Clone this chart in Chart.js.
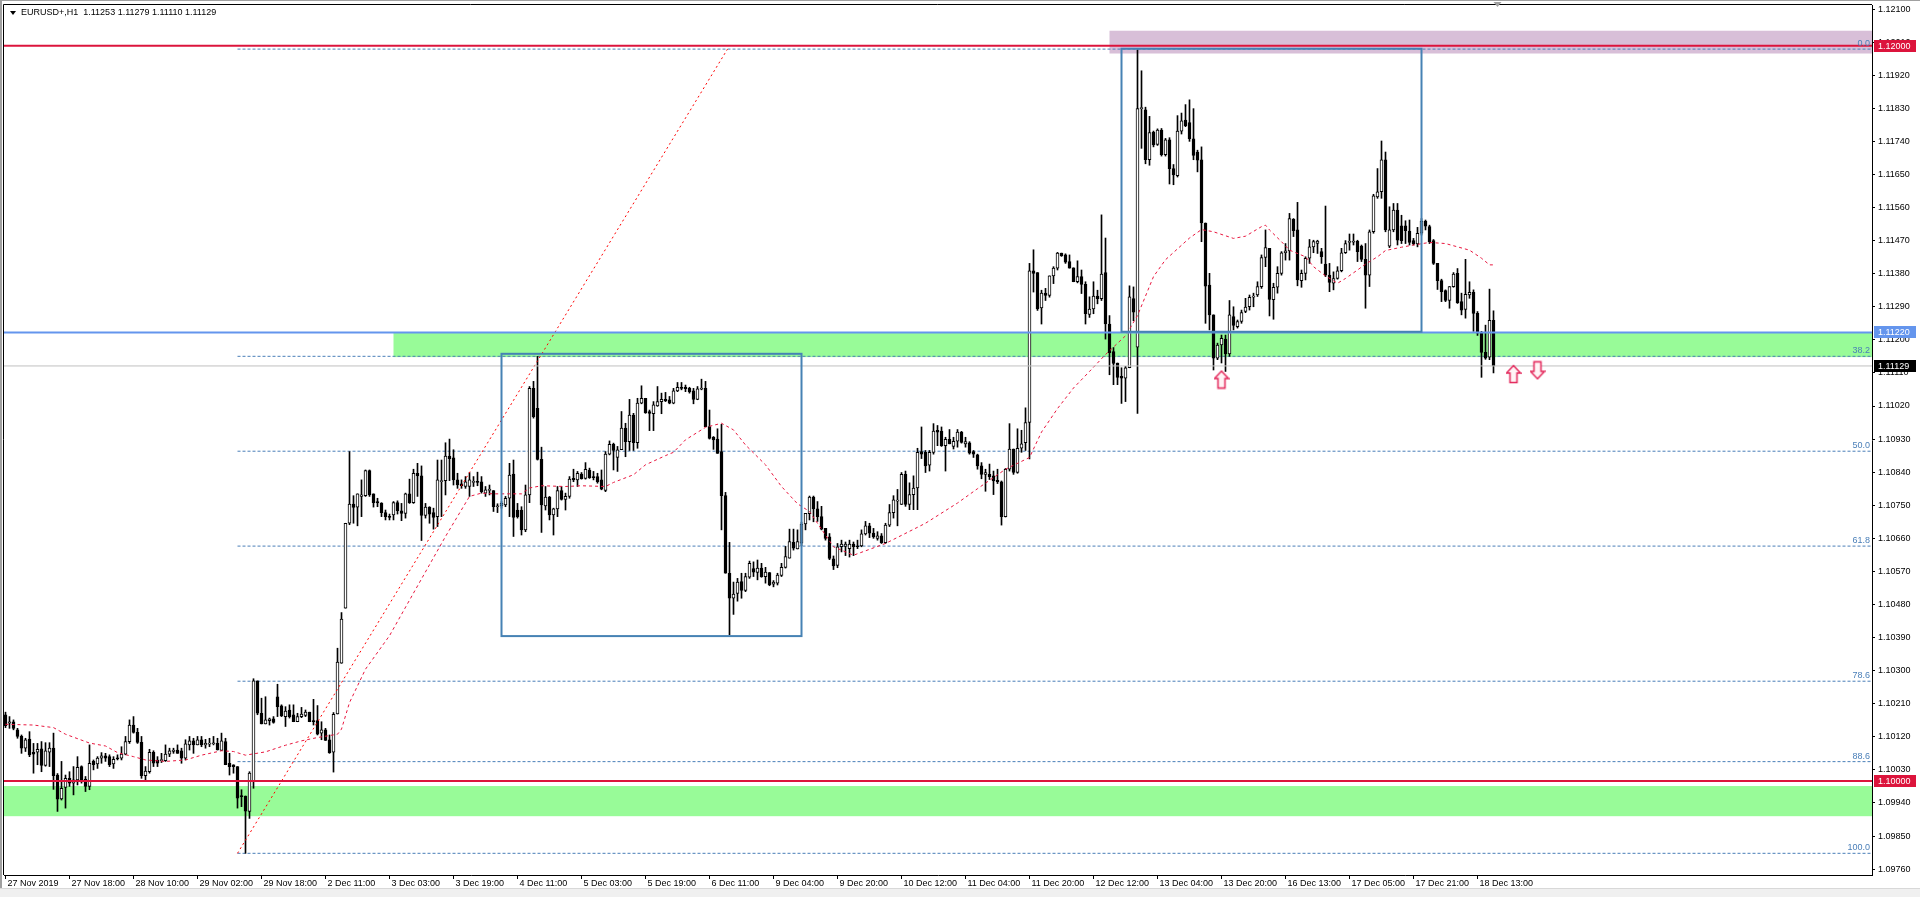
<!DOCTYPE html>
<html>
<head>
<meta charset="utf-8">
<script src="https://cdn.jsdelivr.net/npm/chart.js"></script>
<style>
html,body{margin:0;padding:0;background:#fff;overflow:hidden}
canvas{display:block}
</style>
</head>
<body>
<canvas id="chart" width="1920" height="897"></canvas>
<script>
const SYMBOL = "EURUSD+,H1";

// hourly candles
const opens = [
1.10180,1.10157,1.10161,1.10139,1.10121,1.10089,1.10114,1.10078,1.10078,1.10087,
1.10042,1.10078,1.10089,1.10016,1.09951,1.09982,1.10007,1.09994,1.10003,1.10039,
1.10005,1.09985,1.10053,1.10046,1.10062,1.10068,1.10066,1.10046,1.10063,1.10062,
1.10073,1.10107,1.10152,1.10132,1.10105,1.10014,1.10025,1.10078,1.10057,1.10055,
1.10055,1.10073,1.10080,1.10084,1.10082,1.10062,1.10098,1.10109,1.10098,1.10112,
1.10098,1.10100,1.10101,1.10102,1.10083,1.10107,1.10048,1.10044,1.10039,1.09960,
1.09959,1.09917,1.09998,1.10272,1.10184,1.10155,1.10164,1.10169,1.10229,1.10204,
1.10175,1.10193,1.10180,1.10161,1.10175,1.10178,1.10187,1.10164,1.10164,1.10130,
1.10139,1.10112,1.10078,1.10182,1.10320,1.10470,1.10701,1.10753,1.10745,1.10774,
1.10776,1.10844,1.10781,1.10760,1.10756,1.10730,1.10720,1.10724,1.10757,1.10735,
1.10728,1.10781,1.10757,1.10837,1.10830,1.10722,1.10745,1.10730,1.10719,1.10814,
1.10817,1.10884,1.10879,1.10819,1.10808,1.10801,1.10801,1.10812,1.10815,1.10814,
1.10783,1.10790,1.10790,1.10746,1.10748,1.10751,1.10769,1.10835,1.10737,1.10737,
1.10683,1.10778,1.11068,1.11014,1.10875,1.10748,1.10772,1.10724,1.10740,1.10790,
1.10766,1.10774,1.10823,1.10819,1.10835,1.10823,1.10846,1.10828,1.10828,1.10819,
1.10790,1.10889,1.10916,1.10880,1.10901,1.10960,1.10923,1.10995,1.10920,1.11028,
1.11041,1.11005,1.10999,1.11020,1.11032,1.11038,1.11037,1.11028,1.11061,1.11071,
1.11071,1.11068,1.11061,1.11038,1.11066,1.11068,1.10964,1.10935,1.10930,1.10896,
1.10776,1.10565,1.10497,1.10510,1.10542,1.10518,1.10554,1.10578,1.10567,1.10579,
1.10556,1.10567,1.10535,1.10538,1.10559,1.10581,1.10606,1.10649,1.10631,1.10647,
1.10699,1.10727,1.10772,1.10740,1.10719,1.10687,1.10664,1.10604,1.10586,1.10637,
1.10638,1.10632,1.10644,1.10639,1.10639,1.10672,1.10694,1.10674,1.10660,1.10667,
1.10648,1.10696,1.10730,1.10761,1.10752,1.10834,1.10752,1.10779,1.10797,1.10896,
1.10894,1.10859,1.10894,1.10954,1.10952,1.10912,1.10929,1.10910,1.10924,1.10949,
1.10917,1.10920,1.10896,1.10887,1.10857,1.10834,1.10834,1.10830,1.10818,1.10814,
1.10719,1.10848,1.10903,1.10839,1.10905,1.10920,1.10975,1.11388,1.11383,1.11287,
1.11327,1.11321,1.11374,1.11395,1.11436,1.11431,1.11413,1.11396,1.11358,1.11372,
1.11351,1.11269,1.11284,1.11319,1.11312,1.11383,1.11243,1.11168,1.11137,1.11101,
1.11096,1.11124,1.11312,1.11180,1.11829,1.11826,1.11690,1.11765,1.11732,1.11771,
1.11704,1.11744,1.11666,1.11647,1.11768,1.11798,1.11791,1.11747,1.11711,1.11690,
1.11518,1.11349,1.11268,1.11150,1.11186,1.11202,1.11162,1.11263,1.11236,1.11250,
1.11277,1.11290,1.11316,1.11322,1.11345,1.11424,1.11449,1.11309,1.11343,1.11381,
1.11437,1.11442,1.11528,1.11499,1.11361,1.11381,1.11422,1.11453,1.11462,1.11440,
1.11406,1.11376,1.11354,1.11367,1.11388,1.11437,1.11465,1.11466,1.11468,1.11455,
1.11419,1.11376,1.11494,1.11589,1.11603,1.11690,1.11455,1.11499,1.11553,1.11510,
1.11510,1.11496,1.11470,1.11461,1.11490,1.11523,1.11508,1.11470,1.11408,1.11361,
1.11334,1.11307,1.11345,1.11381,1.11304,1.11283,1.11322,1.11329,1.11272,1.11218,
1.11166,1.11153,1.11253];

const highs = [
1.10187,1.10175,1.10166,1.10143,1.10125,1.10116,1.10134,1.10102,1.10102,1.10107,
1.10104,1.10104,1.10130,1.10020,1.10053,1.10016,1.10025,1.10039,1.10066,1.10041,
1.10012,1.10098,1.10057,1.10066,1.10077,1.10075,1.10071,1.10066,1.10071,1.10093,
1.10121,1.10166,1.10175,1.10143,1.10121,1.10039,1.10086,1.10082,1.10066,1.10075,
1.10098,1.10089,1.10089,1.10098,1.10089,1.10112,1.10121,1.10116,1.10121,1.10121,
1.10113,1.10116,1.10121,1.10116,1.10130,1.10116,1.10075,1.10044,1.10039,1.09976,
1.09959,1.10025,1.10278,1.10272,1.10225,1.10229,1.10171,1.10175,1.10263,1.10207,
1.10202,1.10207,1.10207,1.10184,1.10200,1.10193,1.10187,1.10222,1.10205,1.10161,
1.10143,1.10125,1.10186,1.10361,1.10458,1.10701,1.10896,1.10776,1.10781,1.10819,
1.10846,1.10846,1.10781,1.10769,1.10757,1.10737,1.10726,1.10760,1.10762,1.10755,
1.10783,1.10821,1.10848,1.10864,1.10857,1.10755,1.10746,1.10742,1.10873,1.10873,
1.10920,1.10930,1.10901,1.10837,1.10819,1.10828,1.10839,1.10828,1.10840,1.10828,
1.10801,1.10805,1.10790,1.10754,1.10760,1.10774,1.10864,1.10873,1.10755,1.10746,
1.10805,1.11073,1.11087,1.11155,1.10908,1.10801,1.10774,1.10742,1.10801,1.10801,
1.10783,1.10828,1.10848,1.10842,1.10839,1.10866,1.10851,1.10842,1.10837,1.10846,
1.10896,1.10925,1.10919,1.10910,1.11005,1.10973,1.11038,1.11000,1.11041,1.11075,
1.11041,1.11009,1.11032,1.11073,1.11055,1.11057,1.11046,1.11068,1.11084,1.11084,
1.11077,1.11071,1.11068,1.11073,1.11093,1.11087,1.11009,1.10937,1.10958,1.10970,
1.10785,1.10649,1.10541,1.10551,1.10565,1.10565,1.10598,1.10596,1.10601,1.10592,
1.10581,1.10567,1.10545,1.10565,1.10592,1.10638,1.10685,1.10685,1.10683,1.10704,
1.10728,1.10775,1.10775,1.10760,1.10747,1.10687,1.10673,1.10612,1.10646,1.10655,
1.10650,1.10655,1.10650,1.10655,1.10683,1.10706,1.10701,1.10687,1.10678,1.10673,
1.10701,1.10752,1.10776,1.10793,1.10839,1.10843,1.10811,1.10830,1.10905,1.10963,
1.10899,1.10899,1.10972,1.10967,1.10963,1.10935,1.10956,1.10935,1.10956,1.10951,
1.10935,1.10923,1.10899,1.10889,1.10866,1.10848,1.10862,1.10843,1.10848,1.10816,
1.10850,1.10972,1.10903,1.10958,1.10954,1.11015,1.11408,1.11445,1.11383,1.11335,
1.11340,1.11374,1.11399,1.11438,1.11436,1.11434,1.11431,1.11396,1.11415,1.11390,
1.11358,1.11317,1.11358,1.11335,1.11540,1.11477,1.11266,1.11179,1.11137,1.11124,
1.11128,1.11347,1.11344,1.11989,1.11932,1.11833,1.11808,1.11768,1.11774,1.11775,
1.11748,1.11750,1.11677,1.11810,1.11817,1.11840,1.11853,1.11829,1.11716,1.11725,
1.11518,1.11381,1.11268,1.11191,1.11213,1.11213,1.11307,1.11290,1.11254,1.11281,
1.11313,1.11322,1.11327,1.11358,1.11431,1.11499,1.11449,1.11354,1.11399,1.11440,
1.11462,1.11544,1.11530,1.11574,1.11390,1.11426,1.11473,1.11471,1.11471,1.11449,
1.11564,1.11408,1.11385,1.11399,1.11449,1.11470,1.11488,1.11488,1.11471,1.11458,
1.11462,1.11499,1.11596,1.11666,1.11741,1.11711,1.11562,1.11571,1.11571,1.11539,
1.11524,1.11526,1.11476,1.11506,1.11530,1.11526,1.11512,1.11473,1.11408,1.11365,
1.11336,1.11345,1.11383,1.11394,1.11327,1.11419,1.11358,1.11336,1.11277,1.11223,
1.11240,1.11338,1.11279];

const lows = [
1.10145,1.10143,1.10139,1.10116,1.10075,1.10080,1.10066,1.10021,1.10044,1.10025,
1.10040,1.10039,1.09977,1.09917,1.09948,1.09926,1.09985,1.09962,1.09989,1.09994,
1.09971,1.09976,1.10030,1.10034,1.10048,1.10053,1.10039,1.10034,1.10057,1.10057,
1.10071,1.10102,1.10130,1.10102,1.10007,1.10003,1.10021,1.10039,1.10039,1.10050,
1.10053,1.10066,1.10075,1.10075,1.10048,1.10057,1.10084,1.10075,1.10098,1.10093,
1.10089,1.10093,1.10098,1.10084,1.10083,1.10044,1.10016,1.10021,1.09926,1.09930,
1.09803,1.09898,1.09980,1.10180,1.10155,1.10155,1.10152,1.10157,1.10175,1.10175,
1.10148,1.10171,1.10161,1.10161,1.10172,1.10175,1.10161,1.10152,1.10125,1.10112,
1.10110,1.10075,1.10024,1.10182,1.10320,1.10470,1.10697,1.10701,1.10694,1.10719,
1.10774,1.10774,1.10745,1.10746,1.10719,1.10710,1.10710,1.10710,1.10726,1.10708,
1.10715,1.10755,1.10755,1.10774,1.10654,1.10715,1.10701,1.10685,1.10692,1.10719,
1.10778,1.10817,1.10805,1.10796,1.10796,1.10796,1.10774,1.10801,1.10803,1.10783,
1.10774,1.10778,1.10733,1.10730,1.10742,1.10746,1.10719,1.10665,1.10715,1.10669,
1.10678,1.10757,1.10987,1.10873,1.10676,1.10737,1.10710,1.10669,1.10719,1.10764,
1.10737,1.10769,1.10814,1.10801,1.10821,1.10821,1.10823,1.10819,1.10810,1.10792,
1.10787,1.10887,1.10846,1.10842,1.10901,1.10882,1.10899,1.10899,1.10905,1.11026,
1.11000,1.10953,1.10953,1.11019,1.10999,1.11032,1.11026,1.11026,1.11059,1.11064,
1.11059,1.11055,1.11026,1.11037,1.11064,1.10964,1.10930,1.10902,1.10891,1.10683,
1.10565,1.10397,1.10453,1.10489,1.10497,1.10515,1.10551,1.10556,1.10547,1.10554,
1.10538,1.10531,1.10528,1.10533,1.10556,1.10579,1.10606,1.10628,1.10631,1.10640,
1.10683,1.10710,1.10705,1.10706,1.10683,1.10655,1.10602,1.10575,1.10580,1.10623,
1.10613,1.10609,1.10613,1.10632,1.10637,1.10669,1.10662,1.10660,1.10655,1.10646,
1.10646,1.10692,1.10715,1.10694,1.10752,1.10747,1.10738,1.10738,1.10738,1.10877,
1.10839,1.10843,1.10889,1.10912,1.10910,1.10843,1.10917,1.10903,1.10908,1.10919,
1.10908,1.10889,1.10880,1.10848,1.10822,1.10788,1.10820,1.10779,1.10809,1.10696,
1.10718,1.10843,1.10834,1.10837,1.10894,1.10899,1.10876,1.11330,1.11280,1.11243,
1.11307,1.11316,1.11353,1.11390,1.11427,1.11408,1.11395,1.11358,1.11355,1.11326,
1.11243,1.11261,1.11271,1.11298,1.11307,1.11202,1.11105,1.11078,1.11078,1.11027,
1.11032,1.11124,1.11252,1.11000,1.11721,1.11679,1.11675,1.11725,1.11729,1.11700,
1.11700,1.11624,1.11622,1.11643,1.11760,1.11780,1.11740,1.11690,1.11657,1.11467,
1.11245,1.11227,1.11118,1.11146,1.11137,1.11114,1.11155,1.11227,1.11232,1.11245,
1.11274,1.11281,1.11290,1.11318,1.11340,1.11399,1.11265,1.11256,1.11327,1.11376,
1.11417,1.11417,1.11481,1.11347,1.11343,1.11363,1.11408,1.11437,1.11435,1.11408,
1.11372,1.11331,1.11336,1.11365,1.11385,1.11435,1.11444,1.11458,1.11413,1.11413,
1.11286,1.11345,1.11490,1.11585,1.11585,1.11494,1.11451,1.11494,1.11458,1.11462,
1.11462,1.11458,1.11458,1.11453,1.11485,1.11499,1.11462,1.11405,1.11337,1.11304,
1.11304,1.11286,1.11343,1.11299,1.11268,1.11259,1.11313,1.11223,1.11212,1.11098,
1.11147,1.11146,1.11110];

const closes = [
1.10150,1.10161,1.10143,1.10121,1.10089,1.10112,1.10071,1.10073,1.10086,1.10042,
1.10082,1.10089,1.10014,1.09950,1.09980,1.10007,1.09994,1.10003,1.10037,1.10003,
1.09985,1.10048,1.10044,1.10062,1.10068,1.10062,1.10044,1.10059,1.10060,1.10073,
1.10107,1.10152,1.10132,1.10105,1.10014,1.10027,1.10078,1.10048,1.10048,1.10057,
1.10073,1.10082,1.10084,1.10075,1.10062,1.10101,1.10109,1.10098,1.10112,1.10098,
1.10102,1.10102,1.10103,1.10084,1.10109,1.10044,1.10039,1.10039,1.09953,1.09957,
1.09918,1.10021,1.10272,1.10184,1.10155,1.10166,1.10169,1.10159,1.10202,1.10177,
1.10190,1.10175,1.10161,1.10175,1.10182,1.10187,1.10161,1.10161,1.10127,1.10139,
1.10110,1.10077,1.10181,1.10323,1.10440,1.10701,1.10753,1.10744,1.10781,1.10778,
1.10844,1.10778,1.10757,1.10756,1.10730,1.10719,1.10717,1.10757,1.10735,1.10728,
1.10781,1.10757,1.10837,1.10830,1.10722,1.10745,1.10726,1.10717,1.10819,1.10817,
1.10884,1.10877,1.10819,1.10805,1.10803,1.10814,1.10819,1.10815,1.10812,1.10787,
1.10792,1.10794,1.10746,1.10748,1.10755,1.10769,1.10832,1.10717,1.10719,1.10683,
1.10778,1.11068,1.10991,1.10875,1.10751,1.10772,1.10724,1.10740,1.10790,1.10766,
1.10774,1.10821,1.10819,1.10837,1.10822,1.10848,1.10825,1.10825,1.10814,1.10794,
1.10889,1.10916,1.10899,1.10901,1.10960,1.10923,1.10995,1.10920,1.11028,1.11041,
1.11002,1.11000,1.11023,1.11032,1.11038,1.11034,1.11028,1.11061,1.11071,1.11068,
1.11067,1.11058,1.11038,1.11067,1.11069,1.10964,1.10932,1.10928,1.10891,1.10776,
1.10565,1.10497,1.10508,1.10541,1.10518,1.10556,1.10592,1.10568,1.10579,1.10556,
1.10568,1.10533,1.10541,1.10560,1.10581,1.10610,1.10651,1.10633,1.10651,1.10699,
1.10728,1.10772,1.10740,1.10719,1.10685,1.10660,1.10605,1.10585,1.10637,1.10644,
1.10644,1.10644,1.10637,1.10637,1.10672,1.10694,1.10674,1.10664,1.10667,1.10648,
1.10696,1.10730,1.10765,1.10764,1.10834,1.10752,1.10779,1.10797,1.10894,1.10889,
1.10857,1.10894,1.10952,1.10949,1.10912,1.10929,1.10917,1.10924,1.10949,1.10921,
1.10923,1.10892,1.10889,1.10857,1.10834,1.10839,1.10828,1.10816,1.10814,1.10719,
1.10848,1.10903,1.10839,1.10905,1.10917,1.10975,1.11388,1.11381,1.11284,1.11327,
1.11321,1.11374,1.11395,1.11436,1.11429,1.11411,1.11395,1.11358,1.11372,1.11351,
1.11271,1.11284,1.11319,1.11312,1.11379,1.11243,1.11165,1.11136,1.11098,1.11096,
1.11124,1.11317,1.11275,1.11829,1.11831,1.11690,1.11764,1.11730,1.11771,1.11704,
1.11744,1.11666,1.11649,1.11768,1.11796,1.11783,1.11747,1.11702,1.11689,1.11518,
1.11346,1.11268,1.11150,1.11186,1.11204,1.11162,1.11268,1.11239,1.11250,1.11274,
1.11289,1.11316,1.11319,1.11345,1.11424,1.11451,1.11310,1.11343,1.11381,1.11437,
1.11442,1.11530,1.11497,1.11363,1.11381,1.11422,1.11453,1.11467,1.11469,1.11426,
1.11376,1.11356,1.11367,1.11388,1.11437,1.11462,1.11468,1.11469,1.11440,1.11419,
1.11376,1.11494,1.11592,1.11603,1.11690,1.11499,1.11499,1.11553,1.11471,1.11470,
1.11497,1.11465,1.11461,1.11490,1.11523,1.11509,1.11467,1.11408,1.11361,1.11331,
1.11307,1.11345,1.11379,1.11301,1.11281,1.11324,1.11329,1.11272,1.11218,1.11166,
1.11150,1.11253,1.11129];

// moving average (red dashed), vertices at bar index
const maBar = [0,7,12,15,21,25,28,32,35,40,45,49,54,57,60,65,70,74,78,83,
84,86,90,96,102,110,116,119,122,129,131,134,140,144,150,152,157,160,165,167,
170,175,179,182,185,190,194,198,201,207,212,220,230,238,243,250,256,259,263,267,
271,275,280,283,287,290,296,299,302,307,310,314,315,316,319,321,325,327,330,333,
335,338,340,343,345,349,352,356,360,363,366,369,371,372];
const maPrice = [1.10154,1.10152,1.10145,1.10127,1.10103,1.10095,1.10077,1.10066,1.10057,1.10053,
1.10057,1.10070,1.10082,1.10080,1.10070,1.10079,1.10097,1.10109,1.10118,1.10127,
1.10141,1.10213,1.10304,1.10395,1.10511,1.10665,1.10774,1.10783,1.10781,1.10781,
1.10797,1.10803,1.10801,1.10803,1.10801,1.10812,1.10833,1.10860,1.10885,1.10894,
1.10928,1.10962,1.10973,1.10955,1.10914,1.10860,1.10801,1.10754,1.10733,1.10637,
1.10614,1.10646,1.10701,1.10756,1.10795,1.10848,1.10880,1.10949,1.11013,1.11069,
1.11114,1.11160,1.11211,1.11266,1.11372,1.11418,1.11477,1.11500,1.11494,1.11476,
1.11482,1.11508,1.11512,1.11499,1.11467,1.11444,1.11426,1.11399,1.11374,1.11354,
1.11367,1.11390,1.11406,1.11426,1.11443,1.11452,1.11458,1.11465,1.11462,1.11453,
1.11444,1.11422,1.11404,1.11404];

// fibonacci retracement
const fibBars = [58, 180.5];
const fibPrices = [1.09803, 1.11991];
const fibLevels = [0, 38.2, 50, 61.8, 78.6, 88.6, 100];

// horizontal lines
const redLevels = [1.12000, 1.10000];
const blueLevel = 1.11220;

// zones: purple, upper green, lower green (null = from left edge)
const zoneFrom = [276, 97, null];
const zoneTop = [1.12041, 1.11220, 1.09986];
const zoneBottom = [1.11979, 1.11153, 1.09904];

// blue boxes
const boxFrom = [124, 279];
const boxTo = [199, 354];
const boxTop = [1.11162, 1.11992];
const boxBottom = [1.10394, 1.11222];

// arrows
const upArrowBar = [304, 377];
const upArrowPrice = [1.11092, 1.11107];
const downArrowBar = [383];
const downArrowPrice = [1.11117];

// axes
const xTickLabels = ['27 Nov 2019','27 Nov 18:00','28 Nov 10:00','29 Nov 02:00','29 Nov 18:00','2 Dec 11:00',
'3 Dec 03:00','3 Dec 19:00','4 Dec 11:00','5 Dec 03:00','5 Dec 19:00','6 Dec 11:00','9 Dec 04:00','9 Dec 20:00',
'10 Dec 12:00','11 Dec 04:00','11 Dec 20:00','12 Dec 12:00','13 Dec 04:00','13 Dec 20:00','16 Dec 13:00',
'17 Dec 05:00','17 Dec 21:00','18 Dec 13:00'];
const xTickStep = 16;
const yTickLabels = ['1.12100','1.12010','1.11920','1.11830','1.11740','1.11650','1.11560','1.11470','1.11380',
'1.11290','1.11200','1.11110','1.11020','1.10930','1.10840','1.10750','1.10660','1.10570','1.10480','1.10390',
'1.10300','1.10210','1.10120','1.10030','1.09940','1.09850','1.09760'];
const xMin = -0.375, xMax = 466.625;
const yMin = 1.09744, yMax = 1.12111;

const FONT = '"Liberation Sans", Arial, sans-serif';
Chart.defaults.font.family = FONT;
Chart.defaults.font.size = 9;

function arrowImage(up){
  const c = document.createElement('canvas');
  c.width = 16; c.height = 20;
  const g = c.getContext('2d');
  if(!up){ g.translate(0,20); g.scale(1,-1); }
  g.beginPath();
  g.moveTo(8,1.5); g.lineTo(15,9); g.lineTo(11.5,9); g.lineTo(11.5,18.5);
  g.lineTo(4.5,18.5); g.lineTo(4.5,9); g.lineTo(1,9); g.closePath();
  g.fillStyle = '#fff4f6'; g.fill();
  g.strokeStyle = '#e3265a'; g.lineWidth = 1.5; g.stroke();
  return c;
}

function noPad(s){ s.paddingLeft = 0; s.paddingRight = 0; s.paddingTop = 0; s.paddingBottom = 0; }

const last = closes.length - 1;
const fibColor = '#4a7fb8';

const datasets = [];

fibLevels.forEach(lv => {
  const p = fibPrices[1] - (fibPrices[1] - fibPrices[0]) * lv / 100;
  datasets.push({type:'line', data:[{x:fibBars[0], y:p},{x:xMax, y:p}],
    borderColor:fibColor, borderWidth:1, borderDash:[3,2], pointRadius:0, order:60});
});

datasets.push({
  type:'bar',
  data: highs.map((h,i)=>({x:i, y:[lows[i], h]})),
  backgroundColor:'#000', borderWidth:0,
  barThickness:1, maxBarThickness:1, grouped:false, order:50
});
datasets.push({
  type:'bar',
  data: opens.map((o,i)=>({x:i, y:[Math.min(o,closes[i]), Math.max(o,closes[i])]})),
  backgroundColor: closes.map((c,i)=> c >= opens[i] ? '#ffffff' : '#000000'),
  borderColor:'#000', borderWidth:1, borderSkipped:false, minBarLength:1,
  barThickness:3, maxBarThickness:3, grouped:false, order:40
});

datasets.push({type:'line', data: maBar.map((b,i)=>({x:b, y:maPrice[i]})),
  borderColor:'#e8173f', borderWidth:1, borderDash:[3,3], pointRadius:0, order:30});
datasets.push({type:'line', data: fibBars.map((b,i)=>({x:b, y:fibPrices[i]})),
  borderColor:'#ff0000', borderWidth:1, borderDash:[2,3], pointRadius:0, order:30});

datasets.push({type:'line', data:[{x:xMin,y:closes[last]},{x:xMax,y:closes[last]}],
  borderColor:'#c0c0c0', borderWidth:1, pointRadius:0, order:20});
redLevels.forEach(p => datasets.push({type:'line', data:[{x:xMin,y:p},{x:xMax,y:p}],
  borderColor:'#dc143c', borderWidth:2, pointRadius:0, order:10}));
datasets.push({type:'line', data:[{x:xMin,y:blueLevel},{x:xMax,y:blueLevel}],
  borderColor:'#6495ed', borderWidth:2, pointRadius:0, order:10});

datasets.push({type:'line', showLine:false, data: upArrowBar.map((b,i)=>({x:b, y:upArrowPrice[i]})),
  pointStyle: arrowImage(true), pointRadius:8, order:5});
datasets.push({type:'line', showLine:false, data: downArrowBar.map((b,i)=>({x:b, y:downArrowPrice[i]})),
  pointStyle: arrowImage(false), pointRadius:8, order:5});

const overlay = {
  id:'overlay',
  beforeDatasetsDraw(chart){
    const {ctx, chartArea:a, scales:{x, y}} = chart;
    ctx.save();
    zoneTop.forEach((t,i)=>{
      const x0 = zoneFrom[i] === null ? a.left : x.getPixelForValue(zoneFrom[i]);
      const y0 = y.getPixelForValue(t), y1 = y.getPixelForValue(zoneBottom[i]);
      ctx.fillStyle = i === 0 ? '#d8bfd8' : '#98fb98';
      ctx.fillRect(x0, y0, a.right - x0, y1 - y0);
    });
    ctx.restore();
  },
  afterDatasetsDraw(chart){
    const {ctx, chartArea:a, scales:{x, y}} = chart;
    ctx.save();
    ctx.strokeStyle = '#4682b4'; ctx.lineWidth = 2;
    boxFrom.forEach((b,i)=>{
      const x0 = x.getPixelForValue(b), x1 = x.getPixelForValue(boxTo[i]);
      const y0 = y.getPixelForValue(boxTop[i]), y1 = y.getPixelForValue(boxBottom[i]);
      ctx.strokeRect(x0, y0, x1 - x0, y1 - y0);
    });
    ctx.font = '9px ' + FONT;
    ctx.fillStyle = fibColor; ctx.textAlign = 'right'; ctx.textBaseline = 'bottom';
    fibLevels.forEach(lv=>{
      const p = fibPrices[1] - (fibPrices[1] - fibPrices[0]) * lv / 100;
      ctx.fillText(lv.toFixed(1), a.right - 2, y.getPixelForValue(p) - 1);
    });
    ctx.restore();
  },
  afterDraw(chart){
    const {ctx, chartArea:a, scales:{x, y}} = chart;
    ctx.save();
    // frame
    ctx.strokeStyle = '#000'; ctx.lineWidth = 1;
    ctx.beginPath();
    ctx.moveTo(a.left - 0.5, a.bottom); ctx.lineTo(a.left - 0.5, a.top - 0.5); ctx.lineTo(a.right, a.top - 0.5);
    ctx.stroke();
    ctx.fillStyle = '#a0a0a0';
    ctx.fillRect(0, 0, 1920, 1);
    ctx.fillRect(0, 0, 2, 897);
    ctx.fillStyle = '#f0f0f0';
    ctx.fillRect(0, 889, 1920, 8);
    ctx.fillStyle = '#d8d8d8';
    ctx.fillRect(0, 888, 1920, 1);
    // chart shift marker
    const sx = x.getPixelForValue(closes.length);
    ctx.fillStyle = '#a0a0a0';
    ctx.beginPath(); ctx.moveTo(sx - 4, 2); ctx.lineTo(sx + 4, 2); ctx.lineTo(sx, 7); ctx.closePath(); ctx.fill();
    // price labels on the axis
    ctx.font = '9px ' + FONT; ctx.textBaseline = 'middle'; ctx.textAlign = 'left';
    const tags = [[redLevels[0], '#dc143c'], [blueLevel, '#6495ed'], [closes[last], '#000000'], [redLevels[1], '#dc143c']];
    tags.forEach(([p, bg])=>{
      const py = Math.round(y.getPixelForValue(p));
      ctx.fillStyle = bg; ctx.fillRect(a.right + 2, py - 6, 42, 12);
      ctx.fillStyle = '#fff'; ctx.fillText(p.toFixed(5), a.right + 6, py + 0.5);
    });
    // header
    ctx.fillStyle = '#000';
    ctx.beginPath(); ctx.moveTo(10, 11); ctx.lineTo(16, 11); ctx.lineTo(13, 15); ctx.closePath(); ctx.fill();
    ctx.fillText(SYMBOL + '  ' + [opens[last], highs[last], lows[last], closes[last]].map(v=>v.toFixed(5)).join(' '), 21, 13);
    ctx.restore();
  }
};

new Chart(document.getElementById('chart'), {
  type:'bar',
  data:{datasets},
  options:{
    responsive:false, animation:false, events:[],
    layout:{autoPadding:false, padding:{left:4, top:5, right:0, bottom:0}},
    plugins:{legend:{display:false}, tooltip:{enabled:false}},
    scales:{
      x:{
        type:'linear', min:xMin, max:xMax, offset:false,
        afterBuildTicks: s => { s.ticks = xTickLabels.map((t,k)=>({value:k*xTickStep})); },
        afterFit: s => { s.height = 22; noPad(s); },
        grid:{drawOnChartArea:false, drawTicks:true, tickLength:4, color:'#000', offset:false},
        border:{display:true, color:'#000'},
        ticks:{autoSkip:false, maxRotation:0, align:'start', labelOffset:2, padding:0, color:'#000',
          font:{size:9, lineHeight:1}, callback:(v,i)=>xTickLabels[i]}
      },
      y:{
        type:'linear', position:'right', min:yMin, max:yMax, beginAtZero:false,
        afterBuildTicks: s => { s.ticks = yTickLabels.map(t=>({value:parseFloat(t)})); },
        afterFit: s => { s.width = 48; noPad(s); },
        grid:{drawOnChartArea:false, drawTicks:true, tickLength:3, color:'#000'},
        border:{display:true, color:'#000'},
        ticks:{padding:3, color:'#000', font:{size:9}, callback:(v,i)=>yTickLabels[i]}
      }
    }
  },
  plugins:[overlay]
});
</script>
</body>
</html>
